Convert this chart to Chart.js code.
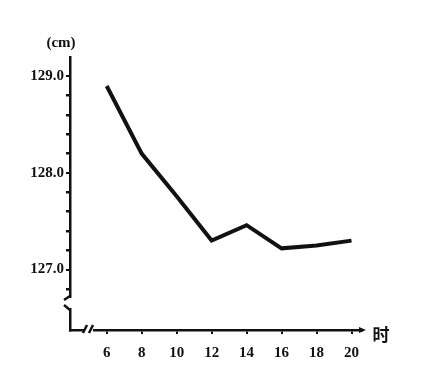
<!DOCTYPE html>
<html>
<head>
<meta charset="utf-8">
<script src="https://cdn.jsdelivr.net/npm/chart.js@4.4.0/dist/chart.umd.min.js"></script>
<style>
  html, body { margin: 0; padding: 0; background: #fff; }
  #wrap { width: 431px; height: 386px; }
</style>
</head>
<body>
<div id="wrap"><canvas id="heightChart"></canvas></div>
<script>
// data
const hours = [6, 8, 10, 12, 14, 16, 18, 20];
const heights = [128.9, 128.2, 127.76, 127.3, 127.46, 127.22, 127.25, 127.3];
const xTicks = [6, 8, 10, 12, 14, 16, 18, 20];
const yTicks = [126.8, 127.0, 127.2, 127.4, 127.6, 127.8, 128.0, 128.2, 128.4, 128.6, 128.8, 129.0];
const yLabelled = [127.0, 128.0, 129.0];

const ink = '#111';
const tickFont = { family: 'Liberation Serif', size: 15, weight: 'bold' };

const isMajor = v => yLabelled.some(m => Math.abs(m - v) < 1e-6);

// axis breaks, unit labels, arrow
const extras = {
  id: 'extras',
  afterDraw(chart) {
    const c = chart.ctx;
    const area = chart.chartArea;
    const x0 = area.left, y0 = area.bottom;
    c.save();
    // y-axis break
    c.fillStyle = '#fff';
    c.fillRect(x0 - 4, 298, 8, 10);
    c.strokeStyle = ink;
    c.lineWidth = 2.5;
    c.beginPath();
    c.moveTo(x0, 296); c.lineTo(x0 - 6, 300);
    c.moveTo(x0 - 6, 305); c.lineTo(x0, 310);
    c.stroke();
    // x-axis break
    c.fillRect(x0 + 14, y0 - 3, 9, 6);
    c.beginPath();
    c.moveTo(x0 + 13, y0 + 3); c.lineTo(x0 + 17, y0 - 5);
    c.moveTo(x0 + 19, y0 + 3); c.lineTo(x0 + 23, y0 - 5);
    c.stroke();
    // arrow at end of x axis
    c.fillStyle = ink;
    c.beginPath();
    c.moveTo(area.right + 4, y0);
    c.lineTo(area.right - 3, y0 - 3);
    c.lineTo(area.right - 3, y0 + 3);
    c.closePath();
    c.fill();
    // unit labels
    c.font = 'bold 15px "Liberation Serif"';
    c.textAlign = 'center';
    c.textBaseline = 'middle';
    c.fillText('(cm)', 61, 43);
    c.font = 'bold 17px "Noto Sans CJK SC"';
    c.fillText('时', 381, 335);
    c.restore();
  }
};

new Chart(document.getElementById('heightChart'), {
  type: 'line',
  data: {
    datasets: [{
      data: hours.map((h, i) => ({ x: h, y: heights[i] })),
      borderColor: ink,
      borderWidth: 4,
      pointRadius: 0,
      tension: 0,
      fill: false
    }]
  },
  options: {
    responsive: true,
    maintainAspectRatio: false,
    animation: false,
    layout: { padding: { top: 57, right: 69, left: 0, bottom: 0 } },
    plugins: { legend: { display: false }, tooltip: { enabled: false } },
    scales: {
      x: {
        type: 'linear',
        min: 3.9,
        max: 20.6,
        afterBuildTicks: s => { s.ticks = xTicks.map(v => ({ value: v })); },
        afterFit: s => { s.height = 56; },
        border: { display: true, color: ink, width: 2.5 },
        grid: { drawOnChartArea: false, drawTicks: true, tickLength: 4, color: ink, lineWidth: 2 },
        ticks: { color: ink, font: tickFont, padding: 10, callback: v => String(v) }
      },
      y: {
        type: 'linear',
        min: 126.375,
        max: 129.2,
        afterBuildTicks: s => { s.ticks = yTicks.map(v => ({ value: v })); },
        afterFit: s => { s.width = 70; },
        border: { display: true, color: ink, width: 2.5 },
        grid: {
          drawOnChartArea: false,
          drawTicks: true,
          tickLength: 4,
          color: ink,
          lineWidth: ctx => (ctx.tick && isMajor(ctx.tick.value)) ? 2 : 2.5
        },
        ticks: {
          color: ink,
          font: tickFont,
          padding: 2,
          callback: v => isMajor(v) ? v.toFixed(1) : ''
        }
      }
    }
  },
  plugins: [extras]
});
</script>
</body>
</html>
